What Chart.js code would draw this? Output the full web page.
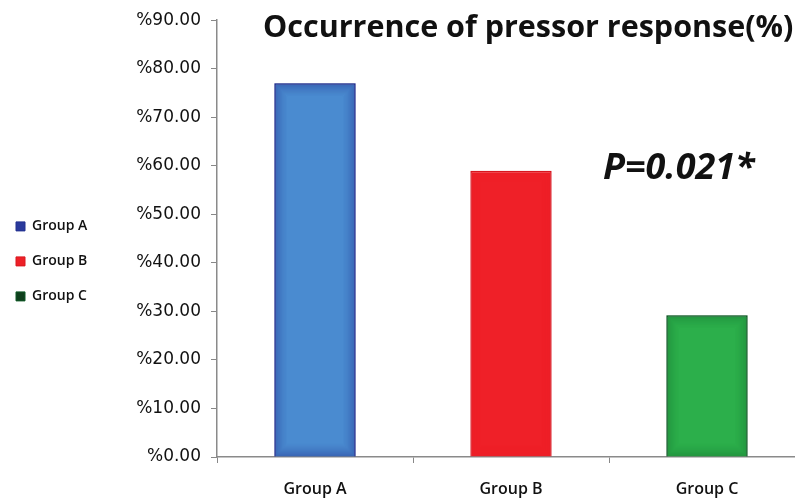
<!DOCTYPE html>
<html>
<head>
<meta charset="utf-8">
<script src="https://cdn.jsdelivr.net/npm/chart.js@4/dist/chart.umd.min.js"></script>
<style>
html,body{margin:0;padding:0;background:#fff;overflow:hidden;width:795px;height:501px;}
#wrap{width:812px;height:501px;position:relative;}
</style>
</head>
<body>
<div id="wrap"><canvas id="c" width="812" height="501"></canvas></div>
<script>
const categories = ["Group A", "Group B", "Group C"];
const values = [77.0, 59.0, 29.2];
const yTicks = [0, 10, 20, 30, 40, 50, 60, 70, 80, 90];
const titleText = "Occurrence of pressor response(%)";
const pValueText = "P=0.021*";
const centerColors = ["#4a8bd0", "#ef2028", "#2caf4b"];
const edgeColors = ["#22308f", "#d81820", "#0f5a26"];
const glowStrength = [0.45, 0.06, 0.3];
const legendColors = ["#2a3a9c", "#ee2027", "#0f3f1c"];

const glowPlugin = {
  id: 'glow',
  afterDatasetsDraw(chart) {
    const ctx = chart.ctx;
    const meta = chart.getDatasetMeta(0);
    meta.data.forEach((bar, i) => {
      const left = bar.x - bar.width / 2;
      const top = Math.min(bar.y, bar.base);
      const h = Math.abs(bar.base - bar.y);
      const w = bar.width;
      ctx.save();
      const steps = 13;
      for (let k = 0; k < steps; k++) {
        ctx.globalAlpha = glowStrength[i] * Math.pow(1 - k / steps, 1.5);
        ctx.strokeStyle = edgeColors[i];
        ctx.lineWidth = 1;
        ctx.strokeRect(left + k + 0.5, top + k + 0.5, w - 2 * k - 1, h - 2 * k - 1);
      }
      ctx.restore();
    });
  }
};

const textPlugin = {
  id: 'texts',
  afterDraw(chart) {
    const ctx = chart.ctx;
    const a = chart.chartArea;
    ctx.save();
    ctx.fillStyle = "#111";
    ctx.textBaseline = "middle";
    ctx.textAlign = "left";
    ctx.font = "bold 30.5px 'Open Sans'";
    ctx.fillText(titleText, a.left + 46, 28);
    ctx.font = "italic bold 36px 'Open Sans'";
    ctx.fillText(pValueText, a.left + 386, 169);
    ctx.restore();
  }
};

new Chart(document.getElementById('c'), {
  type: 'bar',
  data: {
    labels: categories,
    datasets: [{
      data: values,
      backgroundColor: centerColors,
      borderColor: edgeColors,
      borderWidth: 1.5,
      barPercentage: 0.415,
      categoryPercentage: 1.0
    }]
  },
  options: {
    responsive: false,
    animation: false,
    layout: { padding: { left: -5, right: 7, top: 11, bottom: 0 } },
    plugins: {
      title: { display: false },
      tooltip: { enabled: false },
      legend: {
        display: true,
        position: 'left',
        align: 'center',
        title: { display: true, text: ' ', padding: 0, font: { size: 9 } },
        labels: {
          boxWidth: 9,
          boxHeight: 9,
          padding: 21,
          color: "#111",
          font: { family: "'Open Sans'", size: 14, weight: '600' },
          generateLabels(chart) {
            return categories.map((c, i) => ({
              text: c,
              fillStyle: legendColors[i],
              strokeStyle: edgeColors[i],
              fontColor: "#111",
              lineWidth: 1,
              hidden: false,
              index: i,
              datasetIndex: 0
            }));
          }
        }
      }
    },
    scales: {
      x: {
        afterFit(scale) { scale.height = 44; },
        grid: {
          display: true,
          offset: true,
          drawOnChartArea: false,
          drawTicks: true,
          tickLength: 6,
          color: "#888"
        },
        border: { display: true, color: "#8a8a8a", width: 1.5 },
        ticks: {
          color: "#111",
          padding: 17,
          maxRotation: 0,
          font: { family: "'Open Sans'", size: 16, weight: '600' }
        }
      },
      y: {
        min: 0,
        max: 90,
        afterBuildTicks(scale) {
          scale.ticks = yTicks.map(v => ({ value: v }));
        },
        afterFit(scale) {
          const lw = scale.chart.legend ? scale.chart.legend.width : 0;
          scale.width = 222 - lw;
        },
        grid: {
          display: true,
          drawOnChartArea: false,
          drawTicks: true,
          tickLength: 6,
          color: "#888"
        },
        border: { display: true, color: "#8a8a8a", width: 1.5 },
        ticks: {
          color: "#111",
          padding: 10,
          font: { family: "'DejaVu Sans'", size: 17 },
          callback: v => "%" + Number(v).toFixed(2)
        }
      }
    }
  },
  plugins: [glowPlugin, textPlugin]
});
</script>
</body>
</html>
